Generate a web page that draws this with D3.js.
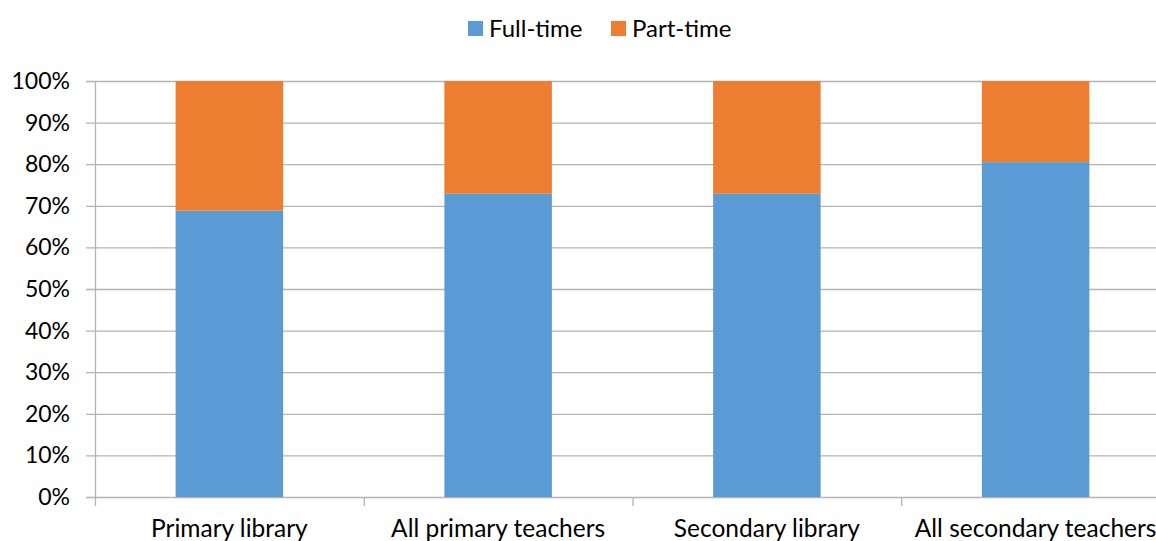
<!DOCTYPE html>
<html><head><meta charset="utf-8">
<script src="https://cdn.jsdelivr.net/npm/d3@7"></script>
<style>html,body{margin:0;padding:0;background:#fff;overflow:hidden}</style>
</head><body>
<svg id="c" width="1156" height="541"></svg>
<script>
const categories = ["Primary library", "All primary teachers", "Secondary library", "All secondary teachers"];
const seriesNames = ["Full-time", "Part-time"];
const fullTime = [68.8, 72.9, 72.9, 80.5];
const partTime = [31.2, 27.1, 27.1, 19.5];
const yTicks = [0, 10, 20, 30, 40, 50, 60, 70, 80, 90, 100];
const colors = ["#5b9bd5", "#ed7d31"];

const FONT = "Lato, 'Open Sans', sans-serif";
const svg = d3.select("#c");
const plotL = 95, plotR = 1170, plotT = 81, plotB = 497;

const x = d3.scaleBand().domain(categories).range([plotL, plotR]).paddingInner(0.6).paddingOuter(0.3);
const xb = d3.scaleBand().domain(categories).range([plotL, plotR]);
const y = d3.scaleLinear().domain([0, 100]).range([plotB, plotT]);

// gridlines
svg.append("g").selectAll("line").data(yTicks).join("line")
  .attr("x1", plotL - 9).attr("x2", plotR)
  .attr("y1", d => y(d) + 0.5).attr("y2", d => y(d) + 0.5)
  .attr("stroke", "#b3b3b3").attr("stroke-width", 1.3);

// y axis line
svg.append("line").attr("x1", plotL + 0.5).attr("x2", plotL + 0.5)
  .attr("y1", plotT).attr("y2", plotB + 9).attr("stroke", "#b3b3b3").attr("stroke-width", 1.3);

// x ticks at category boundaries
svg.append("g").selectAll("line").data(categories.slice(1)).join("line")
  .attr("x1", d => xb(d) + 0.5).attr("x2", d => xb(d) + 0.5)
  .attr("y1", plotB).attr("y2", plotB + 9)
  .attr("stroke", "#b3b3b3").attr("stroke-width", 1.3);

// stacked bars
const data = categories.map((c, i) => ({cat: c, "Full-time": fullTime[i], "Part-time": partTime[i]}));
const stack = d3.stack().keys(seriesNames)(data);
svg.append("g").selectAll("g").data(stack).join("g")
  .attr("fill", (d, i) => colors[i])
  .selectAll("rect").data(d => d).join("rect")
  .attr("x", d => x(d.data.cat))
  .attr("width", x.bandwidth())
  .attr("y", d => y(d[1]))
  .attr("height", d => y(d[0]) - y(d[1]));

// y labels
svg.append("g").selectAll("text").data(yTicks).join("text")
  .attr("x", 70).attr("y", d => y(d))
  .attr("dy", "0.35em").attr("text-anchor", "end")
  .attr("font-family", FONT).attr("font-size", 23).attr("fill", "#000")
  .text(d => d + "%");

// x labels
svg.append("g").selectAll("text").data(categories).join("text")
  .attr("x", d => xb(d) + xb.bandwidth() / 2).attr("y", 537)
  .attr("text-anchor", "middle")
  .attr("font-family", FONT).attr("font-size", 24.5).attr("fill", "#000")
  .text(d => d);

// legend
const legX = [468, 611];
const lg = svg.append("g").selectAll("g").data(seriesNames).join("g")
  .attr("transform", (d, i) => `translate(${legX[i]},21)`);
lg.append("rect").attr("width", 15).attr("height", 15).attr("fill", (d, i) => colors[i]);
lg.append("text").attr("x", 21).attr("y", 7.5).attr("dy", "0.35em")
  .attr("font-family", FONT).attr("font-size", 24).attr("fill", "#000")
  .text(d => d);
</script>
</body></html>
